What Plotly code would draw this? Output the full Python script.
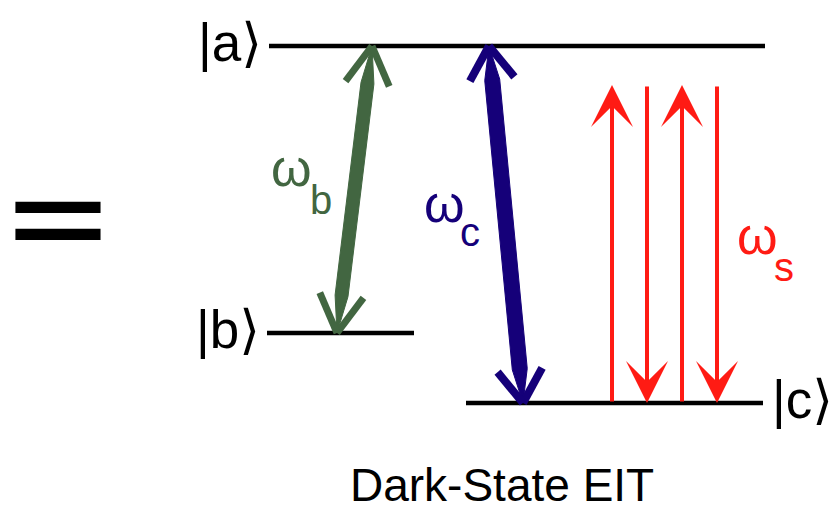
import math
import plotly.graph_objects as go

# ---------------- data ----------------
level_names = ["|a⟩", "|b⟩", "|c⟩"]
level_y = [46, 333, 403]
level_x_start = [269, 267, 466]
level_x_end = [765, 414, 763]
level_label_side = ["left", "left", "right"]

# coupling fields (double-headed arrows |a> <-> lower level)
coupling_lower = ["|b⟩", "|c⟩"]
coupling_symbol = ["ω", "ω"]
coupling_sub = ["b", "c"]
coupling_x_upper = [372, 489]
coupling_x_lower = [337, 523]
coupling_colors = ["#426641", "#150079"]
coupling_shaft_w = [13, 15]
coupling_head_len = [44, 40]
coupling_head_deg = [30, 34]
coupling_head_w = [7, 8]
coupling_label_xy = [(291, 172), (444, 208)]
coupling_sub_xy = [(321, 200), (470, 235)]

# signal field (four single arrows between |c> and near |a>)
probe_x = [612, 647, 682, 717]
probe_dir = ["up", "down", "up", "down"]
probe_top_y = 85
probe_color = "#FF1B14"
probe_label_xy = (757, 240)
probe_sub_xy = (784, 270)
probe_sub = "s"

title_text = "Dark-State EIT"
equals_text = "="

# ---------------- figure ----------------
fig = go.Figure()
ylev = dict(zip(level_names, level_y))

for name, y, x0, x1 in zip(level_names, level_y, level_x_start, level_x_end):
    fig.add_trace(go.Scatter(x=[x0, x1], y=[y, y], mode="lines",
                             line=dict(color="black", width=4.5),
                             hoverinfo="skip", showlegend=False))

annotations = []

for i in range(len(coupling_lower)):
    xt, yt = coupling_x_upper[i], ylev["|a⟩"]
    xb, yb = coupling_x_lower[i], ylev[coupling_lower[i]]
    L = math.hypot(xb - xt, yb - yt)
    ux, uy = (xb - xt) / L, (yb - yt) / L
    px, py = -uy, ux
    w = coupling_shaft_w[i] / 2
    d = coupling_head_len[i] * 0.85
    poly_x = [xt, xt + ux * d + px * w, xb - ux * d + px * w, xb,
              xb - ux * d - px * w, xt + ux * d - px * w, xt]
    poly_y = [yt, yt + uy * d + py * w, yb - uy * d + py * w, yb,
              yb - uy * d - py * w, yt + uy * d - py * w, yt]
    col = coupling_colors[i]
    fig.add_trace(go.Scatter(x=poly_x, y=poly_y, mode="lines", fill="toself",
                             fillcolor=col, line=dict(color=col, width=1),
                             hoverinfo="skip", showlegend=False))
    # open chevron heads
    hx, hy = [], []
    a = math.radians(coupling_head_deg[i])
    hl = coupling_head_len[i]
    for (tx, ty, dx, dy) in [(xt, yt, ux, uy), (xb, yb, -ux, -uy)]:
        for s in (1, -1):
            rx = dx * math.cos(s * a) - dy * math.sin(s * a)
            ry = dx * math.sin(s * a) + dy * math.cos(s * a)
            hx += [tx + rx * hl, tx, None]
            hy += [ty + ry * hl, ty, None]
    fig.add_trace(go.Scatter(x=hx, y=hy, mode="lines",
                             line=dict(color=col, width=coupling_head_w[i]),
                             hoverinfo="skip", showlegend=False))
    lx, ly = coupling_label_xy[i]
    sx, sy = coupling_sub_xy[i]
    annotations.append(dict(x=lx, y=ly - 4, text=coupling_symbol[i], showarrow=False,
                            font=dict(family="Liberation Sans", size=52, color=col)))
    annotations.append(dict(x=sx, y=sy - (3 if coupling_sub[i] == "c" else 0),
                            text=coupling_sub[i], showarrow=False,
                            font=dict(family="Liberation Sans", size=40, color=col)))

yc = ylev["|c⟩"]
for x, dr in zip(probe_x, probe_dir):
    if dr == "up":
        tip, tail = probe_top_y, yc
    else:
        tip, tail = yc, probe_top_y
    annotations.append(dict(x=x, y=tip, ax=x, ay=tail, axref="x", ayref="y",
                            xref="x", yref="y", text="", showarrow=True,
                            arrowhead=3, arrowsize=1.75, arrowwidth=4,
                            arrowcolor=probe_color, standoff=0))
annotations.append(dict(x=probe_label_xy[0], y=probe_label_xy[1] - 4, text="ω",
                        showarrow=False,
                        font=dict(family="Liberation Sans", size=52, color=probe_color)))
annotations.append(dict(x=probe_sub_xy[0], y=probe_sub_xy[1] - 3, text=probe_sub,
                        showarrow=False,
                        font=dict(family="Liberation Sans", size=40, color=probe_color)))

for name, y, x0, x1, side in zip(level_names, level_y, level_x_start, level_x_end,
                                 level_label_side):
    if side == "left":
        annotations.append(dict(x=x0 - 5, y=y - 4, text=name, showarrow=False,
                                xanchor="right",
                                font=dict(family="Liberation Sans, DejaVu Sans",
                                          size=53, color="black")))
    else:
        annotations.append(dict(x=x1 + 7, y=y - 4, text=name, showarrow=False,
                                xanchor="left",
                                font=dict(family="Liberation Sans, DejaVu Sans",
                                          size=53, color="black")))

annotations.append(dict(x=57.5, y=216, text=equals_text, showarrow=False,
                        font=dict(family="DejaVu Sans", size=136, color="black")))
annotations.append(dict(x=502, y=485, text=title_text, showarrow=False,
                        font=dict(family="Liberation Sans", size=46, color="black")))

for an in annotations:
    an.setdefault("xref", "x")
    an.setdefault("yref", "y")

fig.update_layout(
    width=833, height=508,
    margin=dict(l=0, r=0, t=0, b=0),
    paper_bgcolor="white", plot_bgcolor="white",
    xaxis=dict(range=[0, 833], visible=False, fixedrange=True),
    yaxis=dict(range=[508, 0], visible=False, fixedrange=True),
    annotations=annotations,
    showlegend=False,
)

fig.write_html("out.html", config={"displayModeBar": False},
               post_script="document.body.style.margin='0';document.body.style.overflow='hidden';")
